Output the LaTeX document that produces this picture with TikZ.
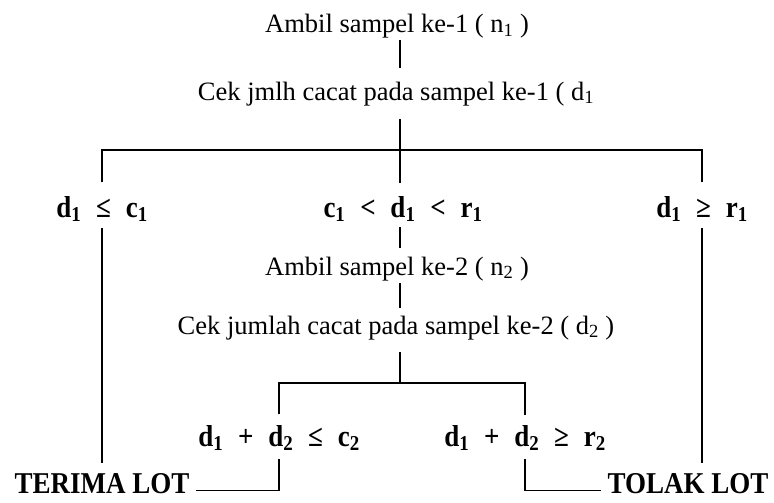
\documentclass[tikz,border=0pt]{standalone}
\usepackage{fontspec}
\usepackage{graphicx}
\setmainfont{Liberation Serif}
\newcommand{\ix}[1]{\textsubscript{#1}}
\newcommand{\gp}{\hspace{0.55em}}
\newcommand{\vst}[1]{\scalebox{1}[1.12]{#1}}
\begin{document}
\begin{tikzpicture}[x=1pt,y=-1pt,line width=1.4pt,
    every node/.style={inner sep=0pt,anchor=base,font=\fontsize{26.5}{30}\selectfont},
    cond/.style={font=\fontsize{27}{30}\selectfont\bfseries}]
      \useasboundingbox (0,0) rectangle (774,503);
      \draw
        (397,33) node (amb1){Ambil sampel ke-1 ( n\ix{1} )}
        (396,100) node (cek1){Cek jmlh cacat pada sampel ke-1 ( d\ix{1}}
        (102,217) node[cond] (acc1){\vst{d\ix{1}\gp≤\gp c\ix{1}}}
        (403,217) node[cond] (mid1){\vst{c\ix{1}\gp<\gp d\ix{1}\gp<\gp r\ix{1}}}
        (702,217) node[cond] (rej1){\vst{d\ix{1}\gp≥\gp r\ix{1}}}
        (397,275) node (amb2){Ambil sampel ke-2 ( n\ix{2} )}
        (396,334) node (cek2){Cek jumlah cacat pada sampel ke-2 ( d\ix{2} )}
        (279,446) node[cond] (acc2){\vst{d\ix{1}\gp+\gp d\ix{2}\gp≤\gp c\ix{2}}}
        (525,446) node[cond] (rej2){\vst{d\ix{1}\gp+\gp d\ix{2}\gp≥\gp r\ix{2}}}
        (14,493) node[cond,anchor=base west] (terima){\vst{TERIMA LOT}}
        (607,493) node[cond,anchor=base west] (tolak){\vst{TOLAK LOT}};
      \coordinate (j1) at (400,150);
      \coordinate (j2) at (400,383);
      \begin{scope}[-]
        \draw[shorten <=1pt, shorten >=13pt] (amb1.south -| j1) -- (cek1.north -| j1);
        \draw[shorten <=13pt] (cek1.south -| j1) -- (j1);
        \draw[shorten <=13pt, shorten >=13pt] (acc1.north) |- (j1) -| (rej1.north);
        \draw[shorten >=12pt] (j1) -- (mid1.north -| j1);
        \draw[shorten <=5pt, shorten >=8pt] (mid1.south -| j1) -- (amb2.north -| j1);
        \draw[shorten <=2pt, shorten >=7pt] (amb2.south -| j1) -- (cek2.north -| j1);
        \draw[shorten <=12pt] (cek2.south -| j1) -- (j2);
        \draw[shorten <=10pt, shorten >=9pt] (acc2.north) |- (j2) -| (rej2.north);
        \draw[shorten <=8pt, shorten >=6pt] (acc2.south) |- (terima.mid east);
        \draw[shorten <=8pt, shorten >=6pt] (rej2.south) |- (tolak.mid west);
        \draw[shorten <=6pt, shorten >=9pt] (acc1.south) -- (acc1.south |- terima.north);
        \draw[shorten <=6pt, shorten >=9pt] (rej1.south) -- (rej1.south |- tolak.north);
      \end{scope}
    \end{tikzpicture}
\end{document}
